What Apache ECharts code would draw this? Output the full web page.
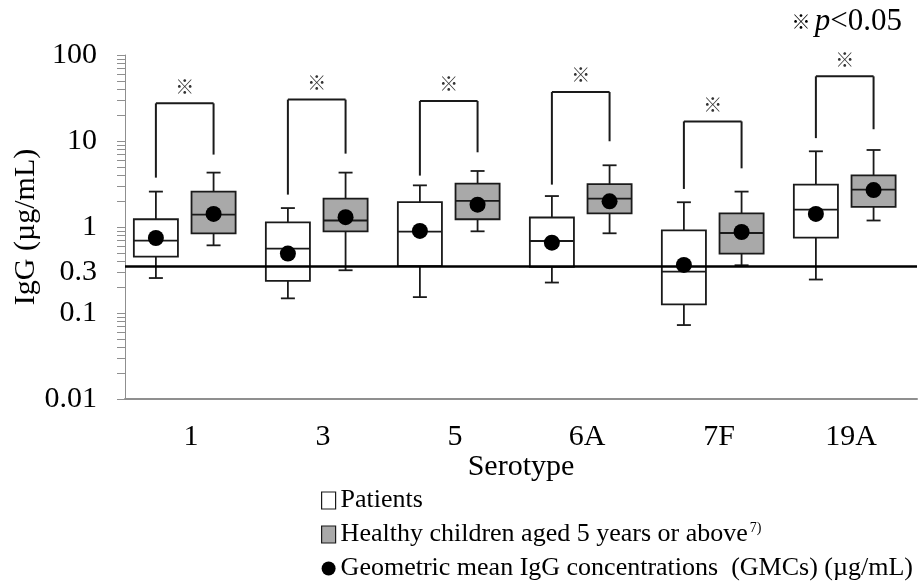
<!DOCTYPE html>
<html>
<head>
<meta charset="utf-8">
<script src="https://cdn.jsdelivr.net/npm/echarts@6/dist/echarts.min.js"></script>
<style>
  html, body { margin: 0; padding: 0; background: #fff; }
  #chart { width: 924px; height: 583px; }
</style>
</head>
<body>
<div id="chart"></div>
<script>
// Serotypes on the x axis
const serotypes = ['1', '3', '5', '6A', '7F', '19A'];

// Box data: [min, Q1, median, Q3, max] (µg/mL)
const patientsBox = [
  [0.255, 0.453, 0.695, 1.23, 2.58],
  [0.148, 0.236, 0.561, 1.13, 1.66],
  [0.153, 0.35, 0.884, 1.95, 3.05],
  [0.226, 0.343, 0.687, 1.29, 2.29],
  [0.0724, 0.126, 0.303, 0.915, 1.94],
  [0.245, 0.753, 1.59, 3.11, 7.59],
];
const healthyBox = [
  [0.612, 0.845, 1.39, 2.58, 4.29],
  [0.314, 0.891, 1.19, 2.14, 4.29],
  [0.891, 1.23, 2.01, 3.19, 4.48],
  [0.845, 1.44, 2.14, 3.16, 5.22],
  [0.359, 0.491, 0.852, 1.44, 2.58],
  [1.19, 1.71, 2.72, 3.99, 7.86],
];

// Geometric mean concentrations
const patientsGMC = [0.745, 0.491, 0.90, 0.658, 0.362, 1.42];
const healthyGMC = [1.42, 1.30, 1.82, 1.99, 0.875, 2.69];

// Significance brackets: [left leg bottom, top, right leg bottom]
const brackets = [
  [3.75, 27.4, 6.95],
  [2.38, 30.3, 7.13],
  [3.96, 29.2, 7.39],
  [3.11, 37.1, 9.93],
  [2.77, 16.9, 4.81],
  [10.8, 56.5, 13.7],
];

// Protective level line
const threshold = 0.35;

// Y axis labels
const yLabelValues = [0.01, 0.1, 0.3, 1, 10, 100];
const yLabels = ['0.01', '0.1', '0.3', '1', '10', '100'];

const NAMES = {
  patients: 'Patients',
  healthy: 'Healthy children aged 5 years or above',
  gmc: 'Geometric mean IgG concentrations  (GMCs) (µg/mL)',
};

// minor ticks at 1..9 x 10^k
const tickValues = [];
[0.01, 0.1, 1, 10].forEach(d => {
  for (let m = 1; m < 10; m++) tickValues.push(+(d * m).toPrecision(3));
});
tickValues.push(100);

const FONT = '"Liberation Serif", "Times New Roman", "Noto Sans CJK JP", serif';
const INK = '#1a1a1a';
const OFF_P = -0.266, OFF_H = 0.171;
const BOX_W = 0.334, CAP_W = 0.106;

function band(api) {
  return api.coord([1, 1])[0] - api.coord([0, 1])[0];
}

function seg(x1, y1, x2, y2, w) {
  return { type: 'line', shape: { x1, y1, x2, y2 }, style: { stroke: INK, lineWidth: w || 1.8 } };
}

function boxRender(offset, fill) {
  return function (params, api) {
    const i = api.value(0);
    const b = band(api);
    const cx = api.coord([i, 1])[0] + b * offset;
    const half = b * BOX_W / 2, cap = b * CAP_W / 2;
    const y = [1, 2, 3, 4, 5].map(d => api.coord([i, api.value(d)])[1]);
    return {
      type: 'group',
      children: [
        seg(cx, y[4], cx, y[3]),
        seg(cx, y[0], cx, y[1]),
        seg(cx - cap, y[4], cx + cap, y[4]),
        seg(cx - cap, y[0], cx + cap, y[0]),
        { type: 'rect', shape: { x: cx - half, y: y[3], width: half * 2, height: y[1] - y[3] },
          style: { fill, stroke: INK, lineWidth: 1.8 } },
        seg(cx - half, y[2], cx + half, y[2]),
      ],
    };
  };
}

function gmcRender(params, api) {
  const i = api.value(0);
  const b = band(api);
  const x0 = api.coord([i, 1])[0];
  return {
    type: 'group',
    children: [[OFF_P, 1], [OFF_H, 2]].map(([off, d]) => ({
      type: 'circle',
      shape: { cx: x0 + b * off, cy: api.coord([i, api.value(d)])[1], r: 8 },
      style: { fill: '#000' },
    })),
  };
}

function bracketRender(params, api) {
  const i = api.value(0);
  const b = band(api);
  const x0 = api.coord([i, 1])[0];
  const xl = x0 + b * OFF_P, xr = x0 + b * OFF_H;
  const yl = api.coord([i, api.value(1)])[1];
  const yt = api.coord([i, api.value(2)])[1];
  const yr = api.coord([i, api.value(3)])[1];
  return {
    type: 'group',
    children: [
      seg(xl, yl, xl, yt, 2),
      seg(xl, yt, xr, yt, 2),
      seg(xr, yt, xr, yr, 2),
      { type: 'text', style: { text: '※', x: (xl + xr) / 2, y: yt - 17, align: 'center', verticalAlign: 'middle',
        font: '19px "Noto Sans CJK JP", sans-serif', fill: '#333' } },
    ],
  };
}

const chart = echarts.init(document.getElementById('chart'));

chart.setOption({
  backgroundColor: '#fff',
  animation: false,
  textStyle: { fontFamily: FONT },
  grid: { left: 125, right: 7, top: 55, bottom: 184, containLabel: false, outerBoundsMode: 'none' },
  xAxis: {
    type: 'category',
    data: serotypes,
    name: 'Serotype',
    nameLocation: 'middle',
    nameGap: 53,
    nameMoveOverlap: false,
    nameTextStyle: { fontFamily: FONT, fontSize: 30, color: '#000' },
    axisLine: { lineStyle: { color: '#8f8f8f', width: 2 } },
    axisTick: { show: false },
    axisLabel: { fontFamily: FONT, fontSize: 30, color: '#000', margin: 23 },
  },
  yAxis: {
    type: 'log',
    logBase: 10,
    min: 0.01,
    max: 100,
    name: 'IgG (µg/mL)',
    nameLocation: 'middle',
    nameGap: 84,
    nameMoveOverlap: false,
    nameRotate: 90,
    nameTextStyle: { fontFamily: FONT, fontSize: 30, color: '#000' },
    axisLine: { show: true, lineStyle: { color: '#8f8f8f', width: 1 } },
    axisTick: { show: true, length: 8, customValues: tickValues, lineStyle: { color: '#8f8f8f' } },
    axisLabel: {
      customValues: yLabelValues,
      fontFamily: FONT, fontSize: 30, color: '#000', margin: 28,
      formatter: v => {
        const k = yLabelValues.findIndex(t => Math.abs(t - v) / t < 1e-6);
        return k >= 0 ? yLabels[k] : '';
      },
    },
    splitLine: { show: false },
  },
  legend: {
    orient: 'vertical',
    left: 316,
    top: 482,
    height: 110,
    itemGap: 7,
    itemWidth: 14,
    itemHeight: 17,
    textStyle: {
      fontFamily: FONT, fontSize: 26, color: '#000', lineHeight: 27,
      rich: {
        t: { fontFamily: FONT, fontSize: 26, color: '#000', lineHeight: 27 },
        sup: { fontFamily: FONT, fontSize: 14, color: '#000', lineHeight: 27, padding: [0, 0, 12, 2] },
      },
    },
    formatter: name => name === NAMES.healthy ? '{t|' + name + '}{sup|7)}' : name,
    data: [
      { name: NAMES.patients, icon: 'rect', itemStyle: { color: '#fff', borderColor: INK, borderWidth: 1.2 } },
      { name: NAMES.healthy, icon: 'rect', itemStyle: { color: '#a9a9a9', borderColor: INK, borderWidth: 1.2 } },
      { name: NAMES.gmc, icon: 'circle', itemStyle: { color: '#000' } },
    ],
  },
  graphic: [{
    type: 'text',
    x: 902,
    y: 22,
    style: {
      text: '{s|※ }{i|p}{n|<0.05}',
      align: 'right',
      verticalAlign: 'middle',
      rich: {
        s: { font: '19px "Noto Sans CJK JP", sans-serif', fill: '#000' },
        i: { fontFamily: FONT, fontSize: 31, fontStyle: 'italic', fill: '#000' },
        n: { fontFamily: FONT, fontSize: 31, fill: '#000' },
      },
    },
  }],
  series: [
    {
      name: NAMES.patients,
      type: 'custom',
      z: 2,
      renderItem: boxRender(OFF_P, '#fff'),
      encode: { x: 0, y: [1, 2, 3, 4, 5] },
      data: patientsBox.map((r, i) => [i, ...r]),
    },
    {
      name: NAMES.healthy,
      type: 'custom',
      z: 2,
      renderItem: boxRender(OFF_H, '#a9a9a9'),
      encode: { x: 0, y: [1, 2, 3, 4, 5] },
      data: healthyBox.map((r, i) => [i, ...r]),
    },
    {
      type: 'line',
      data: [],
      z: 3,
      markLine: {
        silent: true,
        symbol: 'none',
        label: { show: false },
        lineStyle: { color: '#000', width: 2.5, type: 'solid' },
        data: [{ yAxis: threshold }],
      },
    },
    {
      name: NAMES.gmc,
      type: 'custom',
      z: 4,
      renderItem: gmcRender,
      encode: { x: 0, y: [1, 2] },
      data: patientsGMC.map((v, i) => [i, v, healthyGMC[i]]),
    },
    {
      type: 'custom',
      z: 2,
      renderItem: bracketRender,
      encode: { x: 0, y: [1, 2, 3] },
      data: brackets.map((r, i) => [i, ...r]),
    },
  ],
});
</script>
</body>
</html>
